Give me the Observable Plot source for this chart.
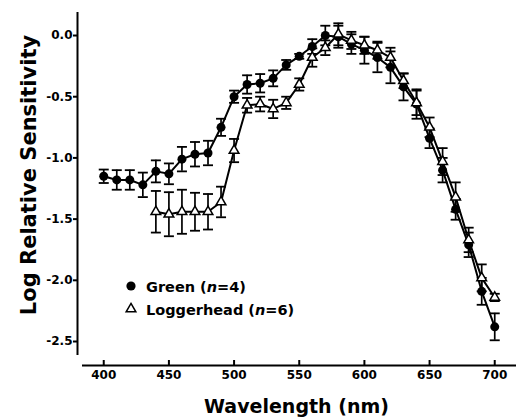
<!DOCTYPE html>
<html><head><meta charset="utf-8">
<script src="https://cdn.jsdelivr.net/npm/d3@7"></script>
<script src="https://cdn.jsdelivr.net/npm/@observablehq/plot@0.6"></script>
<style>
body{margin:0;background:#fff;}
#chart svg{display:block;}
</style></head><body><div id="chart"></div>
<script>
// Green turtle (n=4)
const greenWl  = [400,410,420,430,440,450,460,470,480,490,500,510,520,530,540,550,560,570,580,590,600,610,620,630,640,650,660,670,680,690,700];
const greenVal = [-1.15,-1.18,-1.18,-1.22,-1.11,-1.13,-1.01,-0.97,-0.96,-0.75,-0.50,-0.40,-0.39,-0.35,-0.24,-0.17,-0.09,0.00,-0.01,-0.07,-0.12,-0.18,-0.26,-0.42,-0.56,-0.84,-1.10,-1.42,-1.71,-2.09,-2.38];
const greenErr = [0.055,0.08,0.08,0.10,0.09,0.085,0.10,0.10,0.10,0.07,0.05,0.075,0.075,0.065,0.04,0.02,0.06,0.08,0.09,0.08,0.11,0.12,0.13,0.11,0.12,0.08,0.10,0.085,0.10,0.11,0.11];
// Loggerhead turtle (n=6)
const loggerWl  = [440,450,460,470,480,490,500,510,520,530,540,550,560,570,580,590,600,610,620,630,640,650,660,670,680,690,700];
const loggerVal = [-1.44,-1.46,-1.44,-1.44,-1.44,-1.36,-0.94,-0.57,-0.56,-0.60,-0.55,-0.40,-0.18,-0.10,0.01,-0.04,-0.08,-0.12,-0.18,-0.37,-0.55,-0.75,-1.03,-1.32,-1.67,-1.98,-2.14];
const loggerErr = [0.17,0.18,0.18,0.155,0.145,0.125,0.095,0.06,0.06,0.075,0.05,0.05,0.075,0.06,0.09,0.07,0.07,0.07,0.08,0.06,0.10,0.08,0.11,0.12,0.10,0.11,0.03];

const xTicks = [400,450,500,550,600,650,700];
const yTicks = [0,-0.5,-1,-1.5,-2,-2.5];
const xDomain = [383.7, 716.7];
const yDomain = [-2.696, 0.188];
const yAxisBottom = -2.614;
const xTitle = "Wavelength (nm)";
const yTitle = "Log Relative Sensitivity";
const legendNames = ["Green", "Loggerhead"];
const legendN = ["4", "6"];
const legendSymbols = ["circle", "triangle"];

const green = greenWl.map((w, i) => ({w, v: greenVal[i], e: greenErr[i]}));
const logger = loggerWl.map((w, i) => ({w, v: loggerVal[i], e: loggerErr[i]}));

const cap = {draw(ctx) { ctx.moveTo(-5, 0); ctx.lineTo(5, 0); }};
const errMarks = (data) => [
  Plot.ruleX(data, {x: "w", y1: d => d.v - d.e, y2: d => d.v + d.e, stroke: "#000", strokeWidth: 1.7}),
  Plot.dot(data, {x: "w", y: d => d.v + d.e, symbol: cap, r: 2, fill: "none", stroke: "#000", strokeWidth: 1.8}),
  Plot.dot(data, {x: "w", y: d => d.v - d.e, symbol: cap, r: 2, fill: "none", stroke: "#000", strokeWidth: 1.8})
];

const plot = Plot.plot({
  width: 516, height: 419,
  marginLeft: 82, marginRight: 0, marginTop: 12, marginBottom: 54,
  x: {domain: xDomain, label: null},
  y: {domain: yDomain, label: null},
  style: {fontFamily: "DejaVu Sans", fontSize: "12px", fontWeight: "bold", color: "#000", background: "#fff", overflow: "visible"},
  marks: [
    Plot.ruleY([yDomain[0]], {stroke: "#000", strokeWidth: 2}),
    Plot.ruleX([xDomain[0]], {y1: yAxisBottom, y2: yDomain[1], dx: -5, stroke: "#000", strokeWidth: 2}),
    Plot.axisX({ticks: xTicks, tickSize: -5, tickPadding: 10, strokeWidth: 2, tickFormat: d => String(d), label: null, fill: "#000"}),
    Plot.axisY({ticks: yTicks, tickSize: 4, tickPadding: 1, dx: -5, strokeWidth: 2, tickFormat: d => d.toFixed(1), label: null, fill: "#000"}),
    ...errMarks(green),
    ...errMarks(logger),
    Plot.line(green, {x: "w", y: "v", stroke: "#000", strokeWidth: 2}),
    Plot.line(logger, {x: "w", y: "v", stroke: "#000", strokeWidth: 2}),
    Plot.dot(green, {x: "w", y: "v", r: 4.5, fill: "#000", stroke: "none"}),
    Plot.dot(logger, {x: "w", y: "v", symbol: "triangle", r: 3.6, fill: "#fff", stroke: "#000", strokeWidth: 1.5}),
    Plot.text([xTitle], {text: d => d, frameAnchor: "bottom", lineAnchor: "middle", textAnchor: "middle", dy: 41, dx: -3, fontSize: 19, fontWeight: "bold", fill: "#000"}),
    Plot.text([yTitle], {text: d => d, frameAnchor: "left", lineAnchor: "middle", textAnchor: "middle", rotate: -90, dx: -53, dy: -14, fontSize: 21, fontWeight: "bold", fill: "#000"})
  ]
});

// in-plot legend
const svg = d3.select(plot);
const lg = svg.append("g").attr("font-family", "DejaVu Sans").attr("font-weight", "bold").attr("font-size", 14.5).attr("fill", "#000").attr("text-anchor", "start");
legendNames.forEach((name, i) => {
  const cy = 286 + i * 23;
  const row = lg.append("g");
  if (legendSymbols[i] === "circle") {
    row.append("circle").attr("cx", 131).attr("cy", cy).attr("r", 4.6).attr("fill", "#000");
  } else {
    row.append("path").attr("d", d3.symbol(d3.symbolTriangle, Math.PI * 3.6 * 3.6)())
      .attr("transform", `translate(131,${cy})`).attr("fill", "#fff").attr("stroke", "#000").attr("stroke-width", 1.5);
  }
  const t = row.append("text").attr("x", 146).attr("y", cy + 5.5).attr("text-anchor", "start");
  t.append("tspan").text(name + " (");
  t.append("tspan").attr("font-style", "italic").text("n");
  t.append("tspan").text("=" + legendN[i] + ")");
});

document.getElementById("chart").appendChild(plot);
</script>
</body></html>
